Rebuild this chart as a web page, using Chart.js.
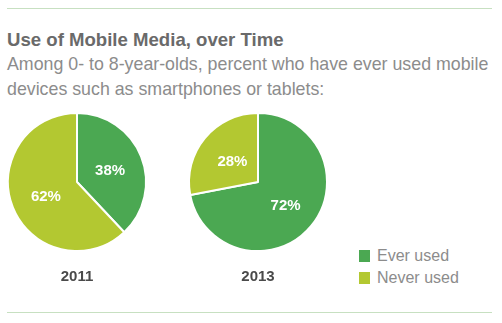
<!DOCTYPE html>
<html>
<head>
<meta charset="utf-8">
<script src="https://cdn.jsdelivr.net/npm/chart.js@4"></script>
<style>
  body { margin: 0; background: #fff; font-family: "Liberation Sans", Arial, sans-serif; }
  #wrap { position: relative; width: 502px; height: 323px; overflow: hidden; }
  .rule { position: absolute; left: 7px; width: 485px; height: 1px; background: #c7e0c1; }
  #title { position: absolute; left: 7px; top: 29px; font-size: 18.6px; font-weight: bold; color: #6a6a6a; white-space: nowrap; }
  #sub { position: absolute; left: 7px; top: 52px; font-size: 17.8px; line-height: 25px; color: #8c8c8c; white-space: nowrap; }
  canvas { position: absolute; }
  #legend { position: absolute; left: 359px; top: 248px; font-size: 16px; color: #8c8c8c; }
  #legend div { height: 22px; line-height: 16px; white-space: nowrap; }
  #legend span { display: inline-block; width: 11px; height: 12px; margin-right: 7px; vertical-align: -1px; }
</style>
</head>
<body>
<div id="wrap">
  <div class="rule" style="top:8px"></div>
  <div id="title">Use of Mobile Media, over Time</div>
  <div id="sub">Among 0- to 8-year-olds, percent who have ever used mobile<br>devices such as smartphones or tablets:</div>
  <canvas id="pie2011" width="154" height="190" style="left:0;top:100px"></canvas>
  <canvas id="pie2013" width="154" height="190" style="left:181px;top:100px"></canvas>
  <div id="legend"></div>
  <div class="rule" style="top:312px"></div>
</div>
<script>
const categories = ["Ever used", "Never used"];
const years = ["2011", "2013"];
const values2011 = [38, 62];
const values2013 = [72, 28];
const colors = ["#4ba852", "#b3c831"];

// percent labels inside the slices
const sliceLabels = {
  id: "sliceLabels",
  afterDatasetsDraw(chart) {
    const ctx = chart.ctx;
    const ds = chart.data.datasets[0];
    chart.getDatasetMeta(0).data.forEach((arc, i) => {
      const p = arc.tooltipPosition();
      ctx.save();
      ctx.fillStyle = "#fff";
      ctx.font = "bold 15px 'Liberation Sans', Arial, sans-serif";
      ctx.textAlign = "center";
      ctx.textBaseline = "middle";
      ctx.fillText(ds.data[i] + "%", p.x + 1, p.y + 2);
      ctx.restore();
    });
  }
};

function makePie(id, year, values) {
  new Chart(document.getElementById(id), {
    type: "pie",
    data: {
      labels: categories,
      datasets: [{
        data: values,
        backgroundColor: colors,
        borderColor: "#fff",
        borderWidth: 2
      }]
    },
    options: {
      responsive: false,
      animation: false,
      layout: { padding: { top: 12, left: 6, right: 6, bottom: 0 } },
      plugins: {
        legend: { display: false },
        tooltip: { enabled: false },
        title: {
          display: true,
          text: year,
          position: "bottom",
          color: "#4a4a4a",
          font: { family: "'Liberation Sans', Arial, sans-serif", size: 15, weight: "bold" },
          padding: { top: 16, bottom: 4 }
        }
      }
    },
    plugins: [sliceLabels]
  });
}

makePie("pie2011", years[0], values2011);
makePie("pie2013", years[1], values2013);

const legend = document.getElementById("legend");
categories.forEach((c, i) => {
  const row = document.createElement("div");
  row.innerHTML = `<span style="background:${colors[i]}"></span>${c}`;
  legend.appendChild(row);
});
</script>
</body>
</html>
